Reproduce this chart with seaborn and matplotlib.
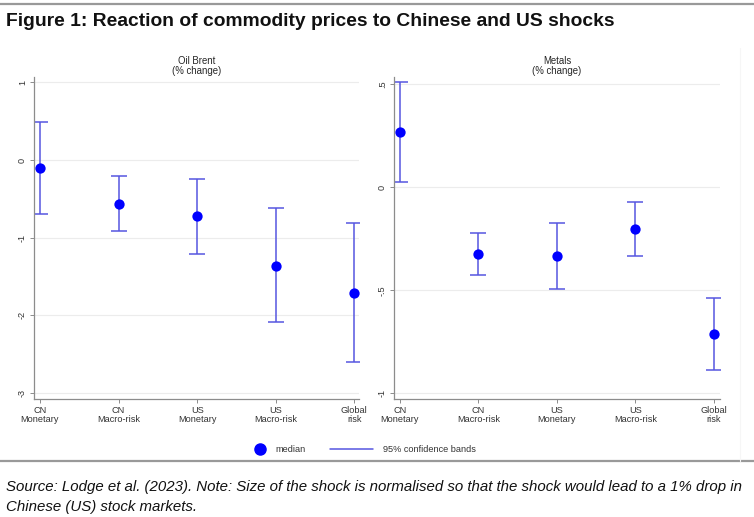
import numpy as np
import pandas as pd
import matplotlib
matplotlib.use("Agg")
import matplotlib.pyplot as plt
from matplotlib.lines import Line2D
import seaborn as sns

# data
categories = ["CN\nMonetary", "CN\nMacro-risk", "US\nMonetary", "US\nMacro-risk", "Global\nrisk"]

oil_median = [-0.10, -0.57, -0.72, -1.36, -1.71]
oil_upper = [0.49, -0.21, -0.24, -0.62, -0.81]
oil_lower = [-0.69, -0.91, -1.21, -2.09, -2.60]

metals_median = [0.267, -0.324, -0.332, -0.204, -0.714]
metals_upper = [0.51, -0.22, -0.172, -0.073, -0.54]
metals_lower = [0.023, -0.427, -0.492, -0.333, -0.885]

oil_ticks = [1, 0, -1, -2, -3]
oil_ticklabels = ["1", "0", "-1", "-2", "-3"]
metals_ticks = [0.5, 0, -0.5, -1]
metals_ticklabels = [".5", "0", "-.5", "-1"]

POINT_COLOR = "#0000ff"
CI_COLOR = "#5656e0"
W, H = 754, 517

sns.set_style("white")
plt.rcParams["font.family"] = ["Liberation Sans", "DejaVu Sans"]

fig = plt.figure(figsize=(W / 100, H / 100), dpi=100)


def px_axes(x0, x1, y0, y1):
    return fig.add_axes([x0 / W, 1 - y1 / H, (x1 - x0) / W, (y1 - y0) / H])


def draw_panel(ax, title, median, upper, lower, ticks, ticklabels, ylim, xlim):
    df = pd.DataFrame({"x": np.arange(len(categories)), "median": median,
                       "upper": upper, "lower": lower})
    for t in ticks:
        ax.axhline(t, color="#ececec", lw=0.8, zorder=0)
    ax.errorbar(df["x"], (df["upper"] + df["lower"]) / 2,
                yerr=(df["upper"] - df["lower"]) / 2, fmt="none",
                ecolor=CI_COLOR, elinewidth=1.1, capsize=5.5, capthick=1.1, zorder=2)
    sns.scatterplot(data=df, x="x", y="median", ax=ax, color=POINT_COLOR,
                    s=55, edgecolor=POINT_COLOR, linewidth=0, zorder=3, legend=False)
    ax.set_xlim(*xlim)
    ax.set_ylim(*ylim)
    ax.set_xticks(df["x"])
    ax.set_xticklabels(categories, fontsize=6.6, linespacing=1.0)
    ax.set_yticks(ticks)
    ax.set_yticklabels(ticklabels, fontsize=6.6, rotation=90, va="center")
    ax.set_xlabel("")
    ax.set_ylabel("")
    ax.set_title(title, fontsize=6.9, linespacing=1.0, pad=2.5)
    for side in ["top", "right"]:
        ax.spines[side].set_visible(False)
    for side in ["left", "bottom"]:
        ax.spines[side].set_color("#8c8c8c")
        ax.spines[side].set_linewidth(0.9)
    ax.tick_params(axis="both", length=3, width=0.7, color="#8c8c8c",
                   labelcolor="#333333", pad=2, direction="out",
                   left=True, bottom=True)


ax1 = px_axes(34, 359, 77, 399)
draw_panel(ax1, "Oil Brent\n(% change)", oil_median, oil_upper, oil_lower,
           oil_ticks, oil_ticklabels, (-3.08, 1.07), (-0.076, 4.06))

ax2 = px_axes(394, 720, 77, 399)
draw_panel(ax2, "Metals\n(% change)", metals_median, metals_upper, metals_lower,
           metals_ticks, metals_ticklabels, (-1.028, 0.535), (-0.076, 4.08))

# legend, placed by hand like the Stata key
ly = 1 - 449 / H
fig.add_artist(Line2D([260 / W], [ly], marker="o", color=POINT_COLOR,
                      linestyle="none", markersize=8))
fig.text(275 / W, ly, "median", fontsize=6.6, va="center", ha="left", color="#333333")
fig.add_artist(Line2D([330 / W, 373 / W], [ly, ly], color=CI_COLOR, lw=1.1))
fig.text(383 / W, ly, "95% confidence bands", fontsize=6.6, va="center", ha="left",
         color="#333333")

# header / footer rules and text
fig.add_artist(Line2D([0, 1], [1 - 4 / H, 1 - 4 / H], color="#999999", lw=1.6))
fig.add_artist(Line2D([0, 1], [1 - 461 / H, 1 - 461 / H], color="#999999", lw=1.6))
fig.add_artist(Line2D([740 / W, 740 / W], [1 - 461 / H, 1 - 48 / H], color="#f6f6f6", lw=0.8))

fig.text(6 / W, 1 - 22 / H, "Figure 1: Reaction of commodity prices to Chinese and US shocks",
         fontsize=13.9, fontweight="bold", va="center", ha="left", color="#111111")
fig.text(6 / W, 1 - 487 / H,
         "Source: Lodge et al. (2023). Note: Size of the shock is normalised so that the shock would lead to a 1% drop in",
         fontsize=10.85, style="italic", va="center", ha="left", color="#111111")
fig.text(6 / W, 1 - 507 / H, "Chinese (US) stock markets.",
         fontsize=10.85, style="italic", va="center", ha="left", color="#111111")

fig.savefig("out.png", dpi=100)
